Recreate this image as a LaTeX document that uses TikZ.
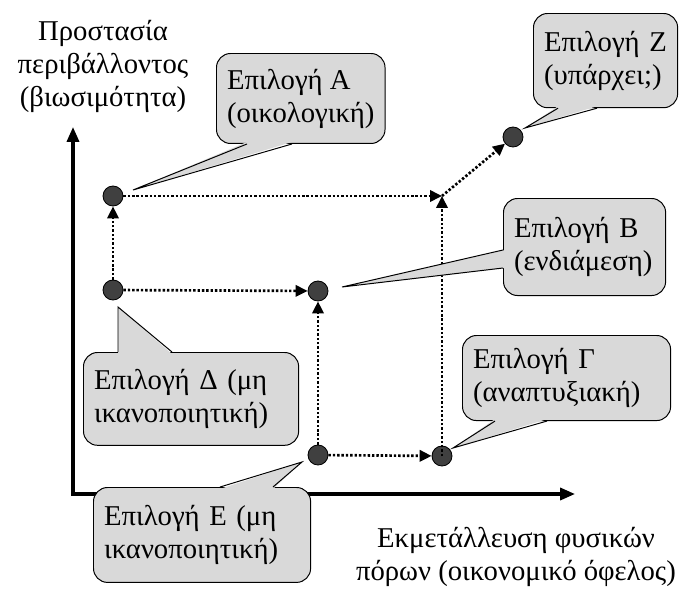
\documentclass[tikz,border=0pt]{standalone}
\usepackage{fontspec}
\setmainfont{Liberation Serif}
\usetikzlibrary{arrows.meta,calc}

\begin{document}
\begin{tikzpicture}[x=0.025cm,y=-0.025cm,
	every node/.style={font=\fontsize{20.4}{23.5}\selectfont},
	dot/.style={circle,draw=black,line width=0.6pt,fill=black!75,minimum size=14.2pt,inner sep=0pt},
	bubble/.style={draw=black,line width=0.7pt,fill=black!15,rounded corners=10pt,align=left,anchor=north west,inner xsep=7.5pt,minimum height=65pt},
	tailfill/.style={fill=black!15},
	tailline/.style={draw=black,line width=0.7pt},
	move/.style={line width=1.9pt,dash pattern=on 1.7pt off 1.4pt,-{Triangle[length=8.5pt,width=8pt]}},
	axis/.style={line width=2.3pt,line join=miter,{Triangle[length=10.5pt,width=8.5pt]}-{Triangle[length=10.5pt,width=8.5pt]}}]

			\useasboundingbox (0,0) rectangle (683,592);

			%axes
			\coordinate (o) at (73,494);
			\coordinate (ytop) at (73,127);
			\coordinate (xend) at (575,494);
			\draw[axis] (ytop) -- (o) -- (xend);

			\node[align=center] (ylab) at (103,66) {Προστασία\\περιβάλλοντος\\(βιωσιμότητα)};
			\node[align=center] (xlab) at (516,557) {Εκμετάλλευση φυσικών\\πόρων (οικονομικό όφελος)};

			%options
			\node[dot] (A) at (113,196) {};
			\node[dot] (D) at (113,290) {};
			\node[dot] (B) at (318,291) {};
			\node[dot] (E) at (318,455) {};
			\node[dot] (G) at (442,456) {};
			\node[dot] (Z) at (513,137) {};
			\coordinate (J) at (442,196);

			%moves
			\draw[move] (D) -- (A);
			\draw[move] (D) -- (B);
			\draw[move] (E) -- (B);
			\draw[move] (E) -- (G);
			\draw[move] (A) -- (J);
			\draw[move] (G.center) -- (J);
			\draw[move] (J) -- (Z);

			%callouts
			\node[bubble,minimum height=64pt] (cA) at (216,53) {Επιλογή Α\\(οικολογική)};
			\node[bubble,text width=87.5pt,minimum height=67pt] (cZ) at (533,13) {Επιλογή Ζ\\(υπάρχει;)};
			\node[bubble,text width=100.3pt,minimum height=69pt] (cB) at (503,198) {Επιλογή Β\\(ενδιάμεση)};
			\node[bubble,text width=133pt,minimum height=60.5pt] (cG) at (462,335) {Επιλογή Γ\\(αναπτυξιακή)};
			\node[bubble,text width=138pt,minimum height=66pt] (cD) at (83,352) {Επιλογή Δ (μη\\ικανοποιητική)};
			\node[bubble,text width=139.4pt,minimum height=67.5pt] (cE) at (93,487) {Επιλογή Ε (μη\\ικανοποιητική)};

			%pointer tips
			\coordinate (tA) at (133,190);
			\coordinate (tZ) at (525,128);
			\coordinate (tB) at (342,287);
			\coordinate (tG) at (453,448);
			\coordinate (tD) at (118,307);
			\coordinate (tE) at (302,462);

			\fill[tailfill] ($(cA.south west)+(31,-2)$) -- (tA) -- ($(cA.south west)+(76,-2)$) -- cycle;
			\draw[tailline] ($(cA.south west)+(31,0)$) -- (tA) -- ($(cA.south west)+(76,0)$);
			\fill[tailfill] ($(cZ.south west)+(25,-2)$) -- (tZ) -- ($(cZ.south west)+(64,-2)$) -- cycle;
			\draw[tailline] ($(cZ.south west)+(25,0)$) -- (tZ) -- ($(cZ.south west)+(64,0)$);
			\fill[tailfill] ($(cB.north west)+(2,52)$) -- (tB) -- ($(cB.north west)+(2,70)$) -- cycle;
			\draw[tailline] ($(cB.north west)+(0,52)$) -- (tB) -- ($(cB.north west)+(0,70)$);
			\fill[tailfill] ($(cG.south west)+(33,-2)$) -- (tG) -- ($(cG.south west)+(85,-2)$) -- cycle;
			\draw[tailline] ($(cG.south west)+(33,0)$) -- (tG) -- ($(cG.south west)+(85,0)$);
			\fill[tailfill] ($(cD.north west)+(35,2)$) -- (tD) -- ($(cD.north west)+(89,2)$) -- cycle;
			\draw[tailline] ($(cD.north west)+(35,0)$) -- (tD) -- ($(cD.north west)+(89,0)$);
			\fill[tailfill] ($(cE.north west)+(127,2)$) -- (tE) -- ($(cE.north west)+(180,2)$) -- cycle;
			\draw[tailline] ($(cE.north west)+(127,0)$) -- (tE) -- ($(cE.north west)+(180,0)$);
		\end{tikzpicture}
\end{document}
